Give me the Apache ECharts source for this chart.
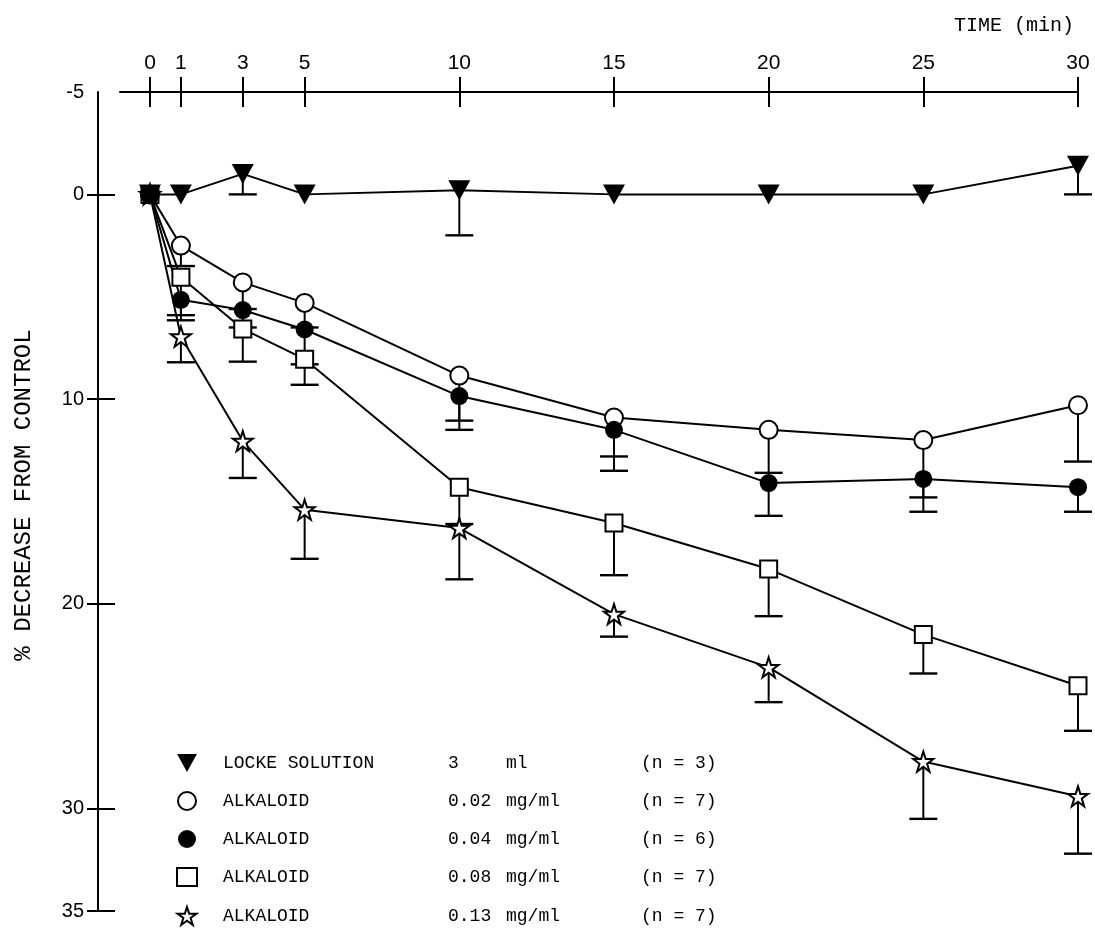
<!DOCTYPE html>
<html><head><meta charset="utf-8">
<script src="https://cdn.jsdelivr.net/npm/echarts@6/dist/echarts.min.js"></script>
<style>html,body{margin:0;padding:0;background:#fff}#c{width:1095px;height:946px}</style>
</head><body><div id="c"></div>
<script>
// ---- data ----
const times = [0, 1, 3, 5, 10, 15, 20, 25, 30];
const xTickLabels = [0, 1, 3, 5, 10, 15, 20, 25, 30];
const yTickLabels = [-5, 0, 10, 20, 30, 35];
const yTickMarks = [0, 10, 20, 30, 35];

const lockeMean = [0, 0, -1.0, 0, -0.2, 0, 0, 0, -1.4];
const lockeSE   = [0, 0, 1.0, 0, 2.2, 0, 0, 0, 1.4];
const alk002Mean = [0, 2.5, 4.3, 5.3, 8.85, 10.9, 11.5, 12.0, 10.3];
const alk002SE   = [0, 1.0, 1.3, 1.2, 2.2, 1.9, 2.1, 2.8, 2.75];
const alk004Mean = [0, 5.15, 5.65, 6.6, 9.85, 11.5, 14.1, 13.9, 14.3];
const alk004SE   = [0, 1.0, 0.85, 1.7, 1.65, 2.0, 1.6, 1.6, 1.2];
const alk008Mean = [0, 4.05, 6.57, 8.05, 14.3, 16.05, 18.3, 21.5, 24.0];
const alk008SE   = [0, 1.85, 1.6, 1.25, 1.8, 2.55, 2.3, 1.9, 2.2];
const alk013Mean = [0, 6.95, 12.05, 15.4, 16.3, 20.5, 23.1, 27.7, 29.4];
const alk013SE   = [0, 1.25, 1.8, 2.4, 2.5, 1.1, 1.7, 2.8, 2.8];

const legendLabel = ['LOCKE SOLUTION', 'ALKALOID', 'ALKALOID', 'ALKALOID', 'ALKALOID'];
const legendDose  = ['3', '0.02', '0.04', '0.08', '0.13'];
const legendUnit  = ['ml', 'mg/ml', 'mg/ml', 'mg/ml', 'mg/ml'];
const legendN     = ['(n = 3)', '(n = 7)', '(n = 6)', '(n = 7)', '(n = 7)'];

const yTitle = '% DECREASE FROM CONTROL';
const xTitle = 'TIME (min)';

// ---- styling ----
const MONO = '"Liberation Mono", "DejaVu Sans Mono", monospace';
const SANS = '"Liberation Sans", "DejaVu Sans", sans-serif';
const INK = '#000';
const triPath = 'path://M0,0 L22,0 L11,20 Z';
const starPath = 'path://M50,2 L61,36 L97,36 L68,57 L79,92 L50,71 L21,92 L32,57 L3,36 L39,36 Z';

const means = [lockeMean, alk002Mean, alk004Mean, alk008Mean, alk013Mean];
const ses = [lockeSE, alk002SE, alk004SE, alk008SE, alk013SE];
const names = legendLabel.map((l, i) => l + ' ' + legendDose[i] + ' ' + legendUnit[i] + ' ' + legendN[i]);
const symbols = [triPath, 'circle', 'circle', 'rect', starPath];
const symSizes = [[22, 20], 18, 18, 17, 20];
const fills = ['#000', '#fff', '#000', '#fff', '#fff'];
const drawOrder = [4, 3, 1, 2, 0];

function errRender(params, api) {
  const x = api.value(0), lo = api.value(1), hi = api.value(2);
  const p1 = api.coord([x, lo]), p2 = api.coord([x, hi]);
  const hw = 14;
  return {
    type: 'group',
    children: [
      { type: 'line', shape: { x1: p1[0], y1: p1[1], x2: p2[0], y2: p2[1] }, style: { stroke: INK, lineWidth: 2 } },
      { type: 'line', shape: { x1: p2[0] - hw, y1: p2[1], x2: p2[0] + hw, y2: p2[1] }, style: { stroke: INK, lineWidth: 2.4 } }
    ]
  };
}

const series = [];
means.forEach((m, i) => {
  series.push({
    type: 'custom', name: names[i] + ' err', xAxisIndex: 0, yAxisIndex: 0, z: 2,
    renderItem: errRender, silent: true,
    data: times.map((t, k) => [t, m[k], m[k] + ses[i][k]]).filter((d, k) => ses[i][k] > 0)
  });
});
drawOrder.forEach((i) => {
  const m = means[i];
  series.push({
    type: 'line', name: names[i], xAxisIndex: 0, yAxisIndex: 0, z: 3,
    data: times.map((t, k) => [t, m[k]]),
    symbol: symbols[i], symbolSize: symSizes[i], showAllSymbol: true,
    lineStyle: { color: INK, width: 2 },
    itemStyle: { color: fills[i], borderColor: '#000', borderWidth: i === 0 || i === 2 ? 0 : 2, opacity: 1 },
    emphasis: { disabled: true }
  });
});

const chart = echarts.init(document.getElementById('c'), null, { renderer: 'canvas' });
const xMin0 = -1.68, xMin1 = -0.97;
chart.setOption({
  animation: false,
  backgroundColor: '#fff',
  grid: [
    { left: 98, right: 17, top: 92, bottom: 35 },
    { left: 120, right: 17, top: 92, height: 10 }
  ],
  xAxis: [
    { gridIndex: 0, type: 'value', min: xMin0, max: 30, show: false },
    { gridIndex: 1, type: 'value', position: 'top', min: xMin1, max: 30,
      axisLine: { onZero: false, lineStyle: { color: INK, width: 2 } },
      axisTick: { customValues: xTickLabels, length: 15, lineStyle: { color: INK, width: 2 } },
      axisLabel: { customValues: xTickLabels, margin: 18, fontSize: 21, color: INK, fontFamily: SANS },
      splitLine: { show: false } },
    { gridIndex: 1, type: 'value', position: 'top', min: xMin1, max: 30,
      axisLine: { show: false, onZero: false },
      axisTick: { inside: true, customValues: xTickLabels, length: 15, lineStyle: { color: INK, width: 2 } },
      axisLabel: { show: false }, splitLine: { show: false } }
  ],
  yAxis: [
    { gridIndex: 0, type: 'value', inverse: true, min: -5, max: 35, position: 'left',
      axisLine: { show: true, onZero: false, lineStyle: { color: INK, width: 2 } },
      axisTick: { show: true, customValues: yTickMarks, length: 11, lineStyle: { color: INK, width: 2 } },
      axisLabel: { customValues: yTickLabels, margin: 14, fontSize: 20, color: INK, fontFamily: SANS, padding: [0, 0, 12, 0] },
      splitLine: { show: false } },
    { gridIndex: 0, type: 'value', inverse: true, min: -5, max: 35, position: 'left',
      axisLine: { show: false, onZero: false },
      axisTick: { show: true, inside: true, customValues: yTickMarks, length: 17, lineStyle: { color: INK, width: 2 } },
      axisLabel: { show: false }, splitLine: { show: false } },
    { gridIndex: 1, type: 'value', min: 0, max: 1, show: false }
  ],
  legend: {
    orient: 'vertical', left: 176, top: 754, padding: 0, itemWidth: 20, itemHeight: 18, itemGap: 19,
    selectedMode: false,
    data: names.map((n, i) => ({ name: n, icon: symbols[i] })),
    formatter: function (name) {
      const i = names.indexOf(name);
      return '{s| }{a|' + legendLabel[i] + '}{b|' + legendDose[i] + '}{c|' + legendUnit[i] + '}{d|' + legendN[i] + '}';
    },
    textStyle: {
      fontFamily: MONO, fontSize: 18, color: INK, lineHeight: 18,
      rich: {
        s: { width: 21, fontFamily: MONO, fontSize: 18 },
        a: { width: 225, fontFamily: MONO, fontSize: 18, color: INK },
        b: { width: 58, fontFamily: MONO, fontSize: 18, color: INK },
        c: { width: 135, fontFamily: MONO, fontSize: 18, color: INK },
        d: { fontFamily: MONO, fontSize: 18, color: INK }
      }
    }
  },
  graphic: [
    { type: 'text', x: 24, y: 495, rotation: Math.PI / 2,
      style: { text: yTitle, font: '24px ' + MONO, fill: INK, align: 'center', verticalAlign: 'middle' } },
    { type: 'text', x: 1074, y: 26,
      style: { text: xTitle, font: '20px ' + MONO, fill: INK, align: 'right', verticalAlign: 'middle' } }
  ],
  series: series
});
</script></body></html>
